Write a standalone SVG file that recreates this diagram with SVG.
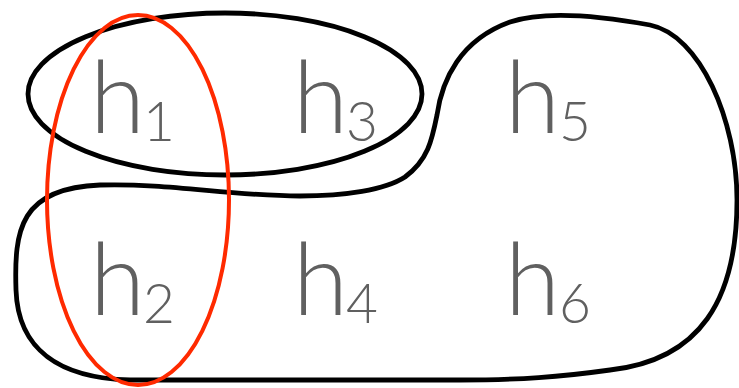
<svg xmlns="http://www.w3.org/2000/svg" width="739" height="388" viewBox="0 0 739 388">
  <style>
    .edge { fill: none; stroke: #000; stroke-width: 4.8; }
    .red { fill: none; stroke: #ff2a00; stroke-width: 4; }
    .lbl { font-family: Lato, "Liberation Sans", sans-serif; font-weight: 300; fill: #606060; }
    .h { font-size: 100px; text-anchor: middle; }
    .sub { font-size: 55px; text-anchor: middle; }
  </style>
  <rect width="739" height="388" fill="#fff"/>
  <g id="connectors">
    <ellipse class="edge" cx="225" cy="94" rx="197" ry="81"/>
    <path class="edge" d="M 100,185 C 170,183 230,196 300,196 C 345,196 385,190 405,177 C 428,160 432,140 437,115 C 442,80 460,40 510,22 C 540,12 590,14 650,25 C 700,35 737,120 737,200 C 737,300 700,360 610,370 C 560,377 520,380 460,380 L 130,380 C 60,378 18,350 16,290 C 14,230 20,188 100,185 Z"/>
    <ellipse class="red" cx="138" cy="200" rx="91" ry="185"/>
  </g>
  <g id="h1" class="lbl"><text class="h" x="117.5" y="133">h</text><text class="sub" x="159" y="141">1</text></g>
  <g id="h3" class="lbl"><text class="h" x="320.5" y="133">h</text><text class="sub" x="362" y="141">3</text></g>
  <g id="h5" class="lbl"><text class="h" x="532.5" y="133">h</text><text class="sub" x="575" y="141">5</text></g>
  <g id="h2" class="lbl"><text class="h" x="117.5" y="315">h</text><text class="sub" x="159" y="323">2</text></g>
  <g id="h4" class="lbl"><text class="h" x="320.5" y="315">h</text><text class="sub" x="362" y="323">4</text></g>
  <g id="h6" class="lbl"><text class="h" x="532.5" y="315">h</text><text class="sub" x="575" y="323">6</text></g>
</svg>
